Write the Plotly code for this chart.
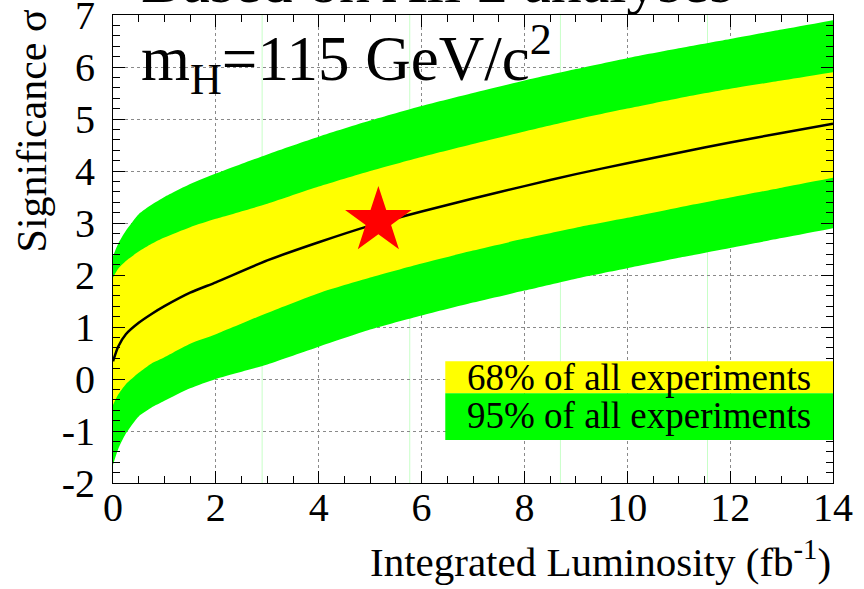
import plotly.graph_objects as go

# Integrated luminosity (fb^-1) at which the bands are sampled
lumi = [0.0, 0.1, 0.25, 0.5, 0.75, 1.0, 1.5, 2.0, 3.0, 4.0, 5.0, 6.0, 7.0,
        8.0, 9.0, 10.0, 11.0, 12.0, 13.0, 14.0]

# Median expected significance
median = [0.34, 0.62, 0.86, 1.08, 1.25, 1.40, 1.66, 1.86, 2.28, 2.63, 2.95,
          3.22, 3.47, 3.71, 3.94, 4.15, 4.35, 4.55, 4.73, 4.91]

# 68% band (yellow)
band68_hi = [1.95, 2.12, 2.27, 2.45, 2.60, 2.72, 2.92, 3.08, 3.37, 3.70, 4.00,
             4.27, 4.52, 4.76, 4.99, 5.20, 5.40, 5.58, 5.74, 5.90]
band68_lo = [-0.50, -0.30, -0.10, 0.12, 0.30, 0.42, 0.68, 0.86, 1.27, 1.65, 1.95,
             2.22, 2.47, 2.70, 2.91, 3.10, 3.30, 3.49, 3.68, 3.87]

# 95% band (green)
band95_hi = [2.36, 2.60, 2.85, 3.17, 3.35, 3.50, 3.75, 3.95, 4.32, 4.66, 4.97,
             5.25, 5.50, 5.74, 5.96, 6.17, 6.36, 6.54, 6.72, 6.90]
band95_lo = [-1.65, -1.35, -1.05, -0.72, -0.55, -0.42, -0.18, 0.00, 0.28, 0.62,
             0.95, 1.22, 1.47, 1.70, 1.93, 2.13, 2.33, 2.52, 2.71, 2.90]

# Current luminosity / significance point
star_lumi = [5.16]
star_sig = [3.04]

x_ticks = [0, 2, 4, 6, 8, 10, 12, 14]
x_labels = ["0", "2", "4", "6", "8", "10", "12", "14"]
y_ticks = [-2, -1, 0, 1, 2, 3, 4, 5, 6, 7]
y_labels = ["-2", "-1", "0", "1", "2", "3", "4", "5", "6", "7"]

# faint vertical seams in the band fill
seam_lumi = [2.9, 5.77, 8.7, 11.56]

GREEN = "#00ff00"
YELLOW = "#ffff00"
SERIF = "Liberation Serif, Times New Roman, DejaVu Serif, serif"

fig = go.Figure()

band_line = dict(width=0, shape="spline", smoothing=0.6)

fig.add_trace(go.Scatter(x=lumi, y=band95_lo, mode="lines",
                         line=dict(color=GREEN, **band_line), showlegend=False,
                         hoverinfo="skip"))
fig.add_trace(go.Scatter(x=lumi, y=band95_hi, mode="lines", fill="tonexty",
                         fillcolor=GREEN, line=dict(color=GREEN, **band_line),
                         showlegend=False, hoverinfo="skip"))
fig.add_trace(go.Scatter(x=lumi, y=band68_lo, mode="lines",
                         line=dict(color=YELLOW, **band_line), showlegend=False,
                         hoverinfo="skip"))
fig.add_trace(go.Scatter(x=lumi, y=band68_hi, mode="lines", fill="tonexty",
                         fillcolor=YELLOW, line=dict(color=YELLOW, **band_line),
                         showlegend=False, hoverinfo="skip"))
fig.add_trace(go.Scatter(x=lumi, y=median, mode="lines",
                         line=dict(color="black", width=2.5, shape="spline",
                                   smoothing=0.6),
                         showlegend=False))
fig.add_trace(go.Scatter(x=star_lumi, y=star_sig, mode="markers",
                         marker=dict(symbol="star", size=50, color="red",
                                     line=dict(width=0)),
                         showlegend=False))

for sx in seam_lumi:
    fig.add_shape(type="line", xref="x", yref="paper", x0=sx, x1=sx, y0=0, y1=1,
                  line=dict(color="rgba(0,255,0,0.22)", width=1), layer="below")

axis_common = dict(
    showline=True, linecolor="black", linewidth=1, mirror="allticks",
    ticks="inside", tickcolor="black", zeroline=False,
    showgrid=True, gridcolor="#8a8a8a", griddash="dot", gridwidth=1,
    tickfont=dict(family=SERIF, size=40, color="black"),
    ticklabeloverflow="allow", automargin=False,
)

fig.update_xaxes(range=[0, 14], tickvals=x_ticks, ticktext=x_labels, ticklen=12,
                 minor=dict(dtick=0.5, ticklen=7, ticks="inside",
                            tickcolor="black", showgrid=False),
                 ticklabelstandoff=-11, **axis_common)
fig.update_yaxes(range=[-2, 7.0005], tickvals=y_ticks, ticktext=y_labels,
                 ticklen=12,
                 minor=dict(dtick=0.2, ticklen=7, ticks="inside",
                            tickcolor="black", showgrid=False),
                 ticklabelstandoff=9, **axis_common)

# Legend boxes
fig.add_shape(type="rect", xref="paper", yref="paper", x0=0.4615, x1=1.0,
              y0=0.192, y1=0.260, fillcolor=YELLOW, line=dict(width=0),
              layer="above")
fig.add_shape(type="rect", xref="paper", yref="paper", x0=0.4615, x1=1.0,
              y0=0.092, y1=0.192, fillcolor=GREEN, line=dict(width=0),
              layer="above")

annotations = [
    dict(text="68% of all experiments", x=0.7307, y=0.226, xref="paper",
         yref="paper", showarrow=False, xanchor="center", yanchor="middle",
         font=dict(family=SERIF, size=37, color="black")),
    dict(text="95% of all experiments", x=0.7307, y=0.145, xref="paper",
         yref="paper", showarrow=False, xanchor="center", yanchor="middle",
         font=dict(family=SERIF, size=37, color="black")),
    dict(text="m<sub>H</sub>=115 GeV/c<sup>2</sup>", x=0.036, y=0.905,
         xref="paper", yref="paper", showarrow=False, xanchor="left",
         yanchor="middle", font=dict(family=SERIF, size=63, color="black")),
    dict(text="Based on All 2 analyses", x=0.036, y=0.996, xref="paper",
         yref="paper", showarrow=False, xanchor="left", yanchor="bottom",
         font=dict(family=SERIF, size=62, color="black")),
    dict(text="Significance σ", x=-0.112, y=0.752, xref="paper", yref="paper",
         showarrow=False, textangle=-90, xanchor="center", yanchor="middle",
         font=dict(family=SERIF, size=42, color="black")),
    dict(text="Integrated Luminosity (fb<sup>-1</sup>)", x=1.0, y=-0.162,
         xref="paper", yref="paper", showarrow=False, xanchor="right",
         yanchor="middle", font=dict(family=SERIF, size=41, color="black")),
]
fig.update_layout(annotations=annotations)

fig.update_layout(
    width=864, height=589,
    margin=dict(l=113, r=31, t=15, b=106, pad=0, autoexpand=False),
    paper_bgcolor="white", plot_bgcolor="white",
    showlegend=False,
)

fig.write_html("out.html")
